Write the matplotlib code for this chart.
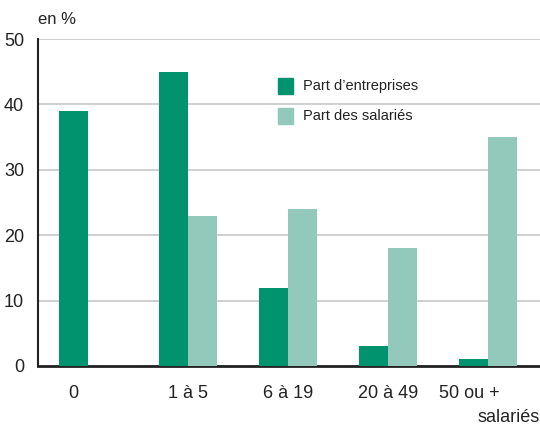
import numpy as np
import matplotlib
matplotlib.use("Agg")
import matplotlib.pyplot as plt
from matplotlib.patches import Rectangle

# -----------------------
# Data
# -----------------------
categories = ["0", "1 à 5", "6 à 19", "20 à 49", "50 ou +"]
part_entreprises = [39, 45, 12, 3, 1]
part_salaries = [np.nan, 23, 24, 18, 35]
series_labels = ["Part d\u2019entreprises", "Part des salariés"]
y_ticks = [0, 10, 20, 30, 40, 50]

DARK = "#00936e"
LIGHT = "#93c9ba"

plt.rcParams['font.family'] = ['Liberation Sans Narrow', 'Liberation Sans', 'DejaVu Sans']

fig = plt.figure(figsize=(5.4, 4.26), dpi=100)
ax = fig.add_axes([38 / 540, 60 / 426, 502 / 540, 327 / 426])

x = np.arange(len(categories))
w = 0.29
ax.bar(x - w / 2, part_entreprises, width=w, color=DARK, zorder=3)
ax.bar(x + w / 2, part_salaries, width=w, color=LIGHT, zorder=3)

ax.set_xlim(-0.5, 4.52)
ax.set_ylim(0, 50)
ax.set_yticks(y_ticks)
ax.set_yticklabels([str(v) for v in y_ticks], fontsize=13, color="#222222")
ax.yaxis.grid(True, color="#c8c8c8", linewidth=1.2, zorder=0)
ax.tick_params(axis="both", length=0, pad=10)

# label under the lone bar when the second series is missing
tick_pos = [xi - w / 2 if np.isnan(s) else xi for xi, s in zip(x, part_salaries)]
tick_pos[-1] = x[-1] - 0.19  # last label sits a bit left, "salariés" goes below
ax.set_xticks(tick_pos)
ax.set_xticklabels(categories, fontsize=13, color="#222222")
ax.tick_params(axis="x", pad=14)
fig.text(1.0, 1 - 409 / 426, "salariés", ha="right", va="top",
         fontsize=13, color="#222222")

for s in ["top", "right"]:
    ax.spines[s].set_visible(False)
ax.spines["left"].set_color("#222222")
ax.spines["left"].set_linewidth(1.5)
ax.spines["bottom"].set_color("#222222")
ax.spines["bottom"].set_linewidth(2)

fig.text(38 / 540, 1 - 19 / 426, "en %", fontsize=12, color="#222222", va="center")

# Legend drawn by hand to match the placement
for i, (lab, col) in enumerate(zip(series_labels, [DARK, LIGHT])):
    yc = 1 - (86 + 30 * i) / 426
    fig.patches.append(Rectangle((278 / 540, yc - 8 / 426), 15 / 540, 16 / 426,
                                 transform=fig.transFigure, color=col))
    fig.text(303 / 540, yc, lab, fontsize=10.5, color="#222222", va="center")

fig.savefig("out.png", dpi=100)
